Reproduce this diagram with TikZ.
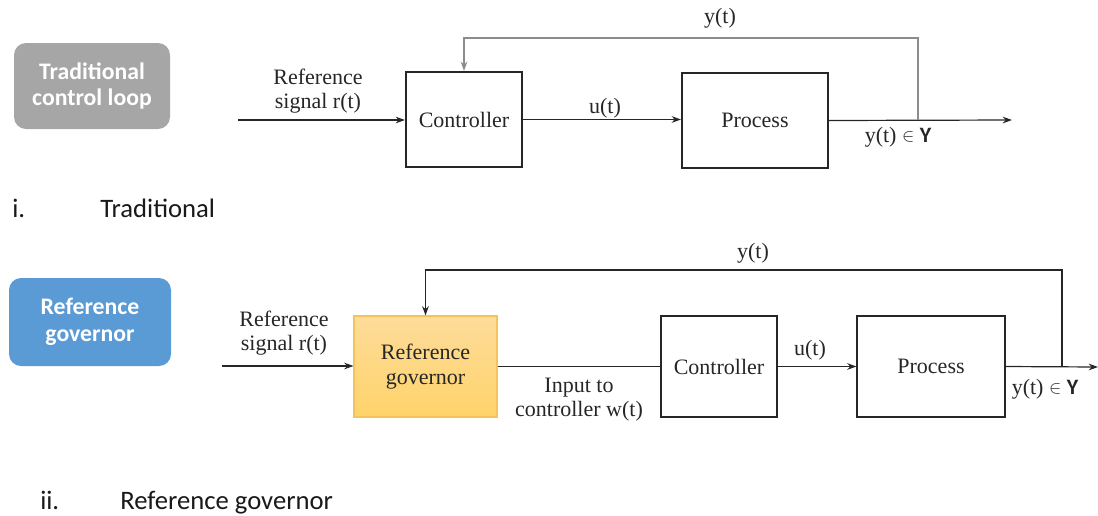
\documentclass[tikz,border=0pt]{standalone}
\usepackage{fontspec}
\setmainfont{Liberation Serif}
\newfontfamily\calfont{Carlito}
\usetikzlibrary{arrows.meta}
\definecolor{graybox}{HTML}{A6A6A6}
\definecolor{bluebox}{HTML}{5B9BD5}
\definecolor{rgtop}{HTML}{FDDC9A}
\definecolor{rgbot}{HTML}{FFD36A}
\definecolor{rgedge}{HTML}{F2C45A}
\definecolor{fbgray}{HTML}{8C8C8C}
\begin{document}
\begin{tikzpicture}[x=0.75pt,y=-0.75pt,
  lbl/.style={font=\rmfamily\mdseries\fontsize{16.5}{18}\selectfont, text=black!85, align=center, inner sep=0pt},
  tag/.style={rounded corners=9pt, text=white, font=\calfont\bfseries\fontsize{17.8}{20}\selectfont, align=center},
  blkA/.style={draw=black!85, line width=1.6pt, font=\rmfamily\mdseries\fontsize{16.5}{19}\selectfont, text=black!85, inner sep=0pt, align=center},
  blkB/.style={draw=black!85, line width=0.8pt, font=\rmfamily\mdseries\fontsize{16.5}{19}\selectfont, text=black!85, inner sep=0pt, align=center},
  wire/.style={draw=black!85, line width=0.9pt},
  arr/.style={wire, -{Stealth[length=7pt,width=5pt]}},
  captxt/.style={font=\calfont\fontsize{20}{24}\selectfont, text=black!90, anchor=base west, inner sep=0pt}
]
\useasboundingbox (0,0) rectangle (1098,515);

% ---------- i. Traditional ----------
\node[blkA, minimum width=87pt, minimum height=71.25pt] (c1) at (464,119.5) {Controller};
\node[blkA, minimum width=109.5pt, minimum height=71.25pt] (p1) at (755,120.5) {Process};
\coordinate (in1) at (238,120);
\coordinate (out1) at (1012,120);
\coordinate (tap1) at (918,120);
\draw[arr] (in1) -- (in1 -| c1.west);
\draw[arr] (c1.east) -- (c1.east -| p1.west);
\draw[arr] (p1.east) -- (out1);
\draw[draw=fbgray, line width=0.9pt, -{Stealth[length=7pt,width=5pt]}] (tap1) -- (tap1 |- 0,38) -| (c1.north);
\node[lbl] (r1) at (318,91.5) {Reference\\signal r(t)};
\node[lbl] (u1) at (605,108) {u(t)};
\node[lbl] (y1) at (720,18) {y(t)};
\node[lbl] (yo1) at (898,137) {y(t) \raisebox{0.1ex}{\scalebox{0.8}{$\in$}} {\calfont\bfseries Y}};

% ---------- ii. Reference governor ----------
\node[blkB, draw=rgedge, top color=rgtop, bottom color=rgbot, line width=0.8pt, minimum width=107.25pt, minimum height=75.75pt] (rg) at (425.5,366.5) {Reference\\governor};
\node[blkB, minimum width=87pt, minimum height=75.75pt] (c2) at (719,366.5) {Controller};
\node[blkB, minimum width=111pt, minimum height=75.75pt] (p2) at (931,366.5) {Process};
\coordinate (in2) at (222,366);
\coordinate (out2) at (1098,367);
\coordinate (tap2) at (1062,367);
\draw[arr] (in2) -- (in2 -| rg.west);
\draw[wire] (rg.east) -- (rg.east -| c2.west);
\draw[arr] (c2.east) -- (c2.east -| p2.west);
\draw[arr] (p2.east) -- (out2);
\draw[arr] (tap2) -- (tap2 |- 0,270) -| (rg.north);
\node[lbl] (r2) at (284,333) {Reference\\signal r(t)};
\node[lbl] (w2) at (579,399.5) {Input to\\controller w(t)};
\node[lbl] (u2) at (810,350) {u(t)};
\node[lbl] (y2) at (753,253) {y(t)};
\node[lbl] (yo2) at (1045,389) {y(t) \raisebox{0.1ex}{\scalebox{0.8}{$\in$}} {\calfont\bfseries Y}};

% ---------- tags and captions ----------
\node[tag, fill=graybox, minimum width=117pt, minimum height=64.5pt] (tagA) at (92,86) {Traditional\\control loop};
\node[tag, fill=bluebox, minimum width=121.5pt, minimum height=66pt] (tagB) at (90,322) {Reference\\governor};
\node[captxt] (ci) at (12,217) {i.};
\node[captxt] (ct) at (100,217) {Traditional};
\node[captxt] (cii) at (40,509) {ii.};
\node[captxt] (crg) at (120,509) {Reference governor};
\end{tikzpicture}
\end{document}
